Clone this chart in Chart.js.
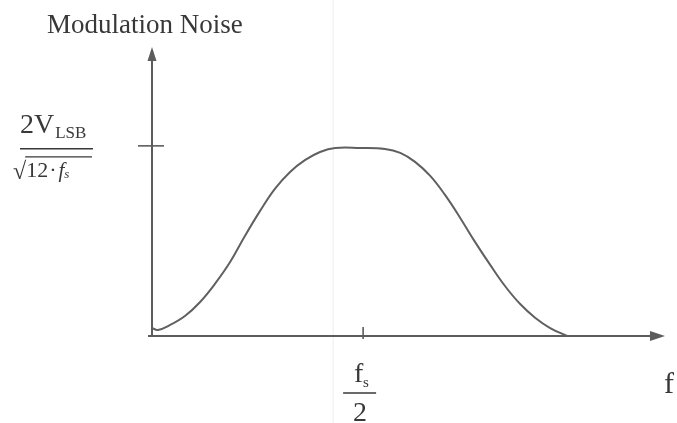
<!DOCTYPE html>
<html>
<head>
<meta charset="utf-8">
<script src="https://cdn.jsdelivr.net/npm/chart.js@4/dist/chart.umd.min.js"></script>
<style>
  html, body { margin: 0; padding: 0; background: #fff; }
  #wrap { width: 677px; height: 423px; }
</style>
</head>
<body>
<div id="wrap"><canvas id="myChart" width="677" height="423"></canvas></div>
<script>
// frequency in units of fs, noise in units of 2V_LSB / sqrt(12 fs)
const freq  = [0, 0.014, 0.043, 0.078, 0.114, 0.149, 0.185, 0.22, 0.256, 0.291, 0.327, 0.363, 0.398, 0.434,
               0.493, 0.552, 0.588, 0.623, 0.659, 0.694, 0.73, 0.765, 0.801, 0.836, 0.872, 0.908, 0.943, 0.983];
const noise = [0.042, 0.032, 0.058, 0.105, 0.179, 0.274, 0.389, 0.526, 0.658, 0.774, 0.863, 0.926, 0.968, 0.989,
               0.989, 0.984, 0.963, 0.916, 0.842, 0.742, 0.621, 0.495, 0.374, 0.263, 0.168, 0.095, 0.042, 0];
const xTicks = [0.5];   // fs/2
const yTicks = [1];     // 2V_LSB / sqrt(12 fs)
const xMax = 1.215;
const yMax = 1.52;

const lineCol = '#5c5c5c';
const textCol = '#383838';
const serif = '"Liberation Serif", "Times New Roman", serif';

const axesPlugin = {
    id: 'axes',
    beforeDatasetsDraw(chart) {
        const ctx = chart.ctx;
        const x = chart.scales.x, y = chart.scales.y;
        const x0 = x.getPixelForValue(0), y0 = y.getPixelForValue(0);
        const top = y.getPixelForValue(yMax), right = x.getPixelForValue(xMax);
        ctx.save();

        // faint scanner streak
        const sx = x.getPixelForValue(0.429);
        ctx.strokeStyle = 'rgba(0,0,0,0.07)';
        ctx.lineWidth = 1;
        ctx.beginPath(); ctx.moveTo(sx, 0); ctx.lineTo(sx, chart.height); ctx.stroke();

        ctx.strokeStyle = lineCol;
        ctx.fillStyle = lineCol;
        ctx.lineWidth = 2;
        // y axis + arrow
        ctx.beginPath(); ctx.moveTo(x0, y0); ctx.lineTo(x0, top + 10); ctx.stroke();
        ctx.beginPath(); ctx.moveTo(x0, top); ctx.lineTo(x0 - 4.5, top + 14); ctx.lineTo(x0 + 4.5, top + 14); ctx.closePath(); ctx.fill();
        // x axis + arrow
        ctx.beginPath(); ctx.moveTo(x0 - 4, y0); ctx.lineTo(right - 10, y0); ctx.stroke();
        ctx.beginPath(); ctx.moveTo(right, y0); ctx.lineTo(right - 15, y0 - 5); ctx.lineTo(right - 15, y0 + 5); ctx.closePath(); ctx.fill();

        // tick marks
        ctx.lineWidth = 1.6;
        yTicks.forEach((v) => {
            const py = y.getPixelForValue(v);
            ctx.beginPath(); ctx.moveTo(x0 - 14, py); ctx.lineTo(x0 + 12, py); ctx.stroke();
        });
        xTicks.forEach((v) => {
            const px = x.getPixelForValue(v);
            ctx.beginPath(); ctx.moveTo(px, y0 - 9); ctx.lineTo(px, y0 + 3); ctx.stroke();
        });
        ctx.restore();
    },
    afterDraw(chart) {
        const ctx = chart.ctx;
        const x = chart.scales.x, y = chart.scales.y;
        const y0 = y.getPixelForValue(0);
        ctx.save();
        ctx.fillStyle = textCol;
        ctx.strokeStyle = textCol;
        ctx.textBaseline = 'alphabetic';
        ctx.textAlign = 'left';

        ctx.font = '27px ' + serif;
        ctx.fillText('Modulation Noise', 47, 33);

        // y tick label: 2V_LSB over sqrt(12 . fs)
        const ty = y.getPixelForValue(yTicks[0]);
        ctx.font = '28px ' + serif;
        ctx.fillText('2V', 20, ty - 13);
        const w2v = ctx.measureText('2V').width;
        ctx.font = '17px ' + serif;
        ctx.fillText('LSB', 20 + w2v + 1, ty - 8);
        ctx.lineWidth = 1.5;
        ctx.beginPath(); ctx.moveTo(20, ty + 3); ctx.lineTo(93, ty + 3); ctx.stroke();

        ctx.font = '24px ' + serif;
        ctx.fillText('\u221A', 13, ty + 33);
        let cx = 13 + ctx.measureText('\u221A').width;
        ctx.lineWidth = 1.2;
        ctx.beginPath(); ctx.moveTo(cx - 1, ty + 11); ctx.lineTo(92, ty + 11); ctx.stroke();
        ctx.font = '22px ' + serif;
        ctx.fillText('12', cx, ty + 31);
        cx += ctx.measureText('12').width;
        ctx.fillText('\u00B7', cx + 1, ty + 31);
        cx += ctx.measureText('\u00B7').width + 3;
        ctx.font = 'italic 21px ' + serif;
        ctx.fillText('f', cx, ty + 31);
        cx += ctx.measureText('f').width;
        ctx.font = 'italic 13px ' + serif;
        ctx.fillText('s', cx, ty + 32);

        // x tick label: fs over 2
        const tx = x.getPixelForValue(xTicks[0]) - 4;
        ctx.font = '28px ' + serif;
        ctx.fillText('f', tx - 5, y0 + 46);
        ctx.font = '15px ' + serif;
        ctx.fillText('s', tx + 4, y0 + 51);
        ctx.lineWidth = 1.5;
        ctx.beginPath(); ctx.moveTo(tx - 16, y0 + 57); ctx.lineTo(tx + 17, y0 + 57); ctx.stroke();
        ctx.font = '28px ' + serif;
        ctx.textAlign = 'center';
        ctx.fillText('2', tx + 1, y0 + 85);

        // axis name
        ctx.textAlign = 'left';
        ctx.font = '30px ' + serif;
        ctx.fillText('f', 664, y0 + 57);
        ctx.restore();
    }
};

const ctx = document.getElementById('myChart').getContext('2d');
const myChart = new Chart(ctx, {
    type: 'line',
    data: {
        datasets: [{
            data: freq.map((f, i) => ({ x: f, y: noise[i] })),
            borderColor: '#606060',
            borderWidth: 2,
            pointRadius: 0,
            fill: false,
            tension: 0.4,
            clip: false
        }]
    },
    options: {
        responsive: false,
        animation: false,
        layout: { padding: { left: 152, right: 12, top: 47, bottom: 87 } },
        plugins: { legend: { display: false }, tooltip: { enabled: false } },
        scales: {
            x: { type: 'linear', min: 0, max: xMax, display: false },
            y: { type: 'linear', min: 0, max: yMax, display: false }
        }
    },
    plugins: [axesPlugin]
});
</script>
</body>
</html>
